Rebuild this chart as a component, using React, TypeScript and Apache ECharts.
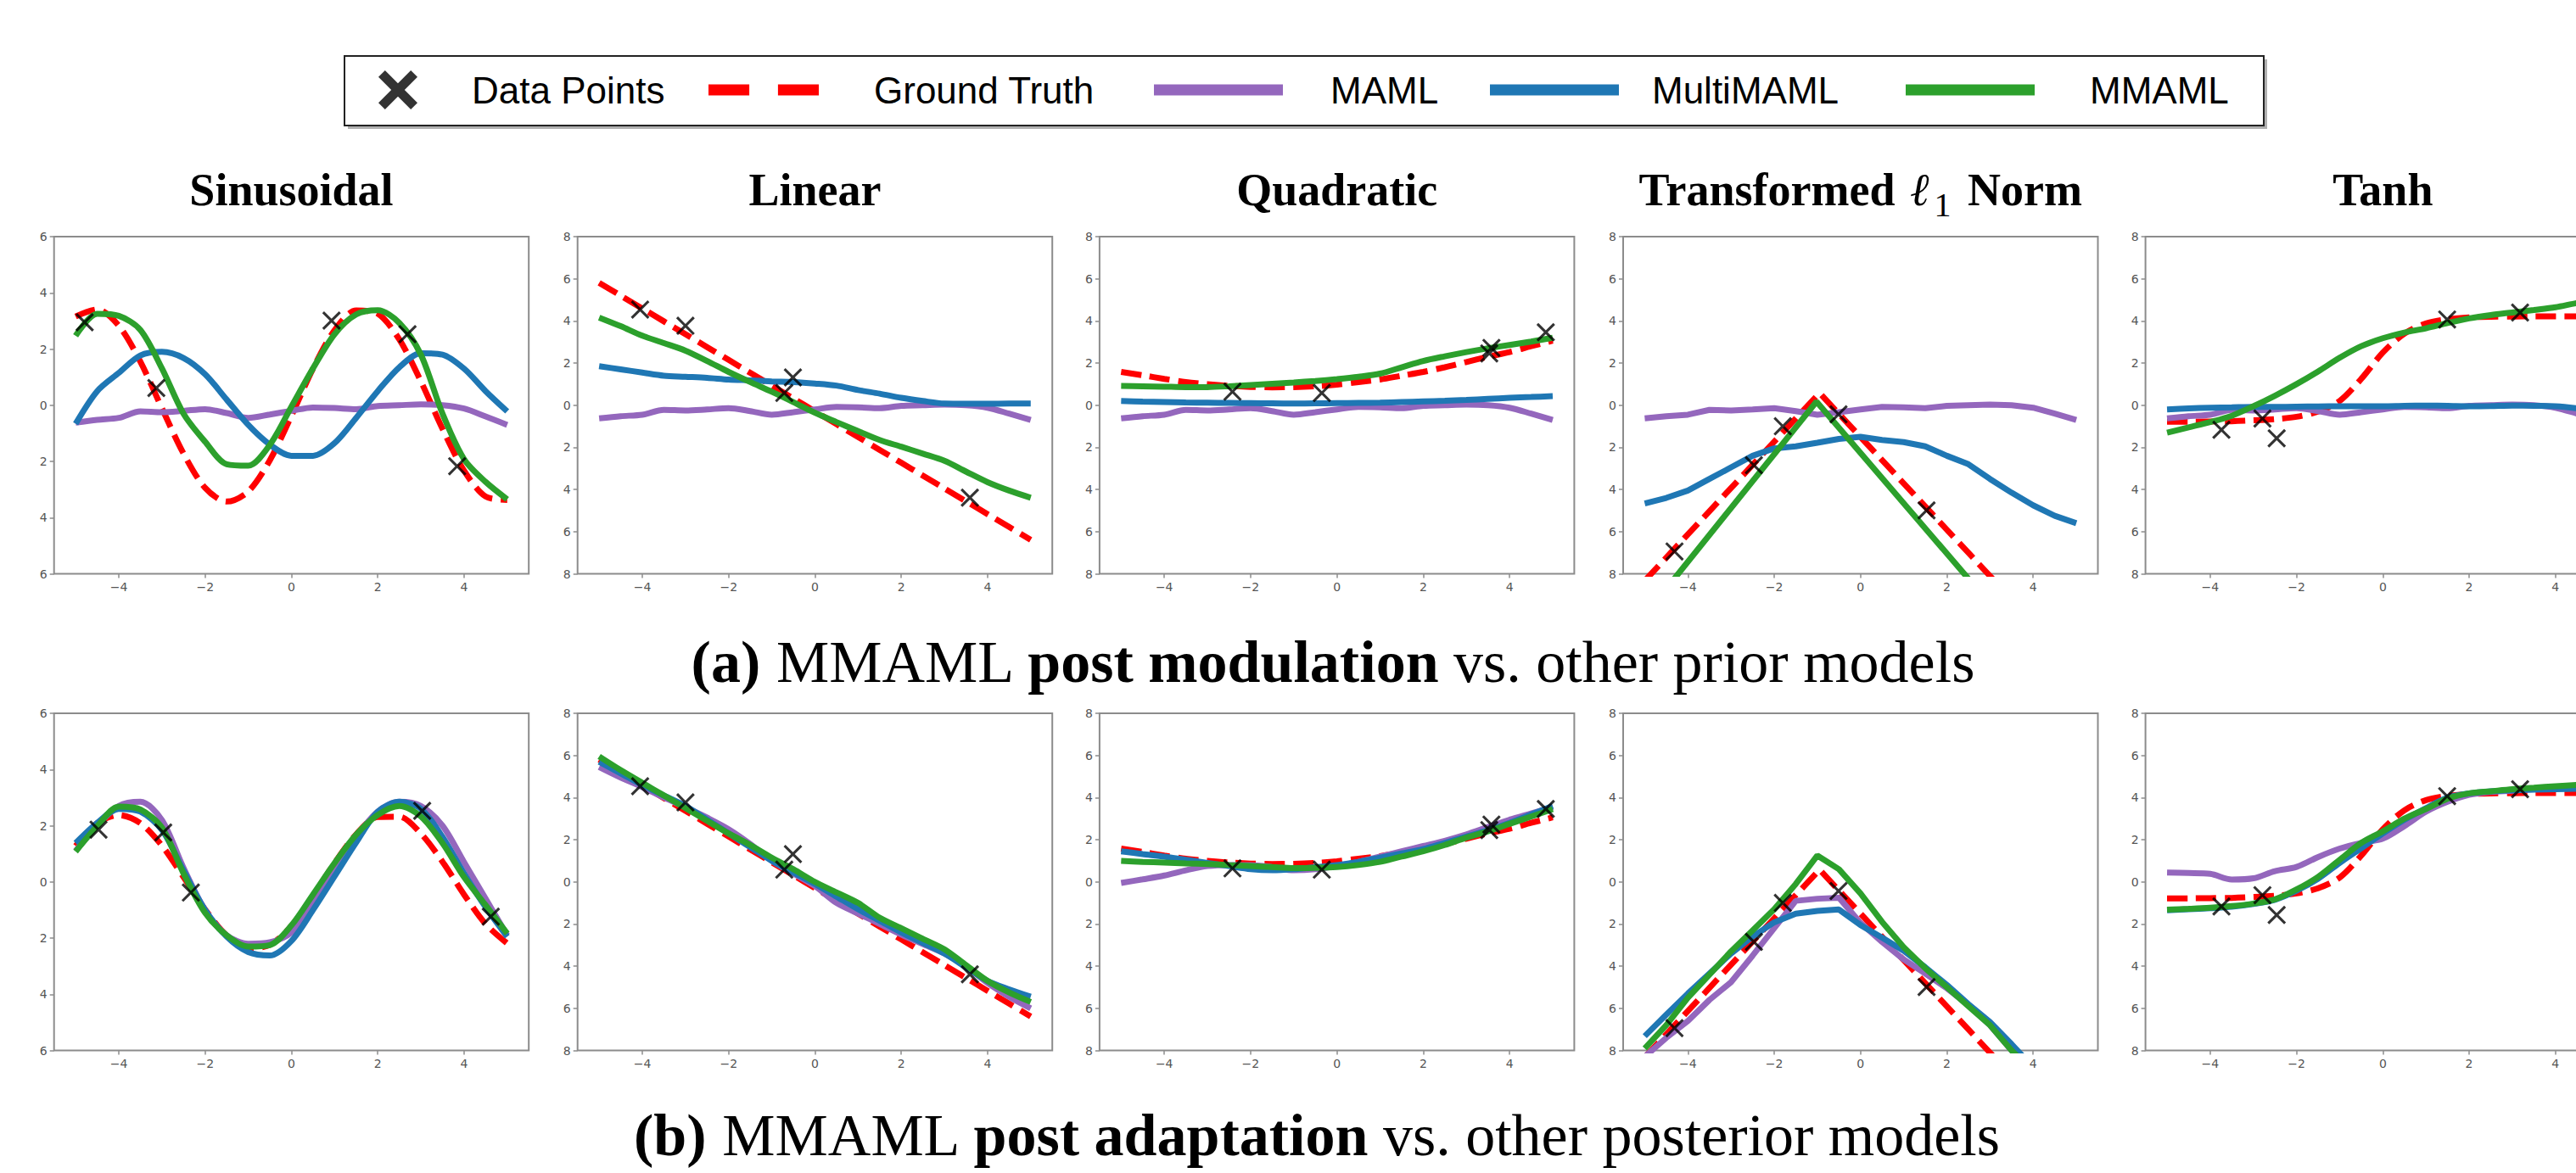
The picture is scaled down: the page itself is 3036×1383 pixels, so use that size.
import React, { useEffect, useRef } from "react";
import * as echarts from "echarts";

// ---------------- data ----------------
const X_GRID = [-5, -4.5, -4, -3.5, -3, -2.5, -2, -1.5, -1, -0.5, 0, 0.5, 1, 1.5, 2, 2.5, 3, 3.5, 4, 4.5, 5];
const X_TICKS = [-4, -2, 0, 2, 4];

// MAML prior (same function in every top-row panel)
const MAML_PRIOR = [-0.62, -0.52, -0.45, -0.22, -0.25, -0.2, -0.14, -0.28, -0.45, -0.33, -0.2, -0.08, -0.1, -0.14, -0.03, 0.0, 0.03, 0.0, -0.12, -0.4, -0.7];

// Sinusoidal
const SIN_A_GT = [3.16, 3.41, 2.83, 1.55, -0.11, -1.72, -2.94, -3.43, -3.07, -1.96, -0.38, 1.3, 2.67, 3.37, 3.26, 2.34, 0.85, -0.84, -2.33, -3.25, -3.37];
const SIN_A_MULTI = [-0.66, 0.5, 1.15, 1.77, 1.9, 1.68, 1.1, 0.2, -0.7, -1.4, -1.8, -1.8, -1.35, -0.45, 0.5, 1.35, 1.85, 1.8, 1.3, 0.5, -0.22];
const SIN_A_MMAML = [2.47, 3.25, 3.18, 2.68, 1.31, -0.3, -1.3, -2.1, -2.15, -1.41, -0.05, 1.31, 2.53, 3.23, 3.38, 2.93, 1.8, -0.3, -1.92, -2.73, -3.35];
const SIN_A_PTS_X = [-4.79, -3.13, 0.93, 2.69, 3.84];
const SIN_A_PTS_Y = [2.95, 0.61, 3.01, 2.53, -2.17];

const SIN_B_GT = [1.28, 2.09, 2.38, 2.09, 1.29, 0.17, -0.98, -1.91, -2.36, -2.24, -1.57, -0.5, 0.67, 1.69, 2.31, 2.32, 1.72, 0.72, -0.45, -1.5, -2.19];
const SIN_B_MAML = [1.1, 2.0, 2.7, 2.85, 2.2, 0.5, -1.0, -1.9, -2.2, -2.15, -1.8, -0.8, 0.4, 1.6, 2.5, 2.85, 2.7, 2.0, 0.7, -0.6, -1.9];
const SIN_B_MULTI = [1.38, 2.1, 2.6, 2.5, 1.85, 0.4, -1.0, -1.95, -2.5, -2.62, -2.1, -1.0, 0.2, 1.4, 2.5, 2.85, 2.6, 1.6, 0.3, -0.9, -1.95];
const SIN_B_MMAML = [1.08, 1.98, 2.68, 2.58, 1.93, 0.3, -1.1, -1.9, -2.3, -2.25, -1.55, -0.45, 0.67, 1.68, 2.38, 2.7, 2.33, 1.38, 0.17, -0.83, -1.84];
const SIN_B_PTS_X = [-4.47, -2.97, -2.33, 3.03, 4.62];
const SIN_B_PTS_Y = [1.86, 1.76, -0.38, 2.53, -1.24];

// Linear
const LIN_GT = [5.81, 5.2, 4.59, 3.98, 3.37, 2.76, 2.15, 1.54, 0.93, 0.32, -0.29, -0.9, -1.51, -2.12, -2.73, -3.34, -3.95, -4.56, -5.17, -5.78, -6.39];
const LIN_A_MULTI = [1.85, 1.7, 1.55, 1.4, 1.35, 1.3, 1.22, 1.18, 1.13, 1.1, 1.03, 0.93, 0.72, 0.55, 0.35, 0.2, 0.08, 0.07, 0.07, 0.08, 0.08];
const LIN_A_MMAML = [4.16, 3.75, 3.3, 2.95, 2.59, 2.1, 1.58, 1.1, 0.64, 0.15, -0.36, -0.8, -1.23, -1.65, -1.97, -2.3, -2.64, -3.15, -3.65, -4.05, -4.39];
const LIN_B_MAML = [5.45, 4.95, 4.5, 4.0, 3.55, 3.05, 2.5, 1.8, 1.0, 0.4, -0.2, -1.0, -1.5, -2.0, -2.5, -2.95, -3.4, -4.0, -4.8, -5.45, -6.0];
const LIN_B_MULTI = [5.7, 5.15, 4.6, 4.1, 3.6, 2.95, 2.3, 1.65, 1.0, 0.45, -0.1, -0.7, -1.3, -1.85, -2.4, -2.9, -3.4, -4.05, -4.7, -5.1, -5.45];
const LIN_B_MMAML = [5.95, 5.3, 4.7, 4.1, 3.5, 2.9, 2.3, 1.75, 1.15, 0.6, 0.0, -0.5, -1.0, -1.7, -2.2, -2.7, -3.2, -3.95, -4.7, -5.25, -5.7];
const LIN_PTS_X = [-4.05, -3.0, -0.51, -0.71, 3.59];
const LIN_PTS_Y = [4.54, 3.77, 1.32, 0.58, -4.39];

// Quadratic
const QUAD_GT = [1.58, 1.42, 1.25, 1.1, 1.0, 0.92, 0.87, 0.85, 0.86, 0.9, 0.98, 1.1, 1.22, 1.4, 1.58, 1.8, 2.05, 2.3, 2.52, 2.8, 3.06];
const QUAD_A_MULTI = [0.2, 0.17, 0.15, 0.13, 0.12, 0.11, 0.1, 0.09, 0.08, 0.09, 0.1, 0.11, 0.12, 0.15, 0.18, 0.21, 0.25, 0.3, 0.35, 0.39, 0.43];
const QUAD_A_MMAML = [0.92, 0.9, 0.88, 0.86, 0.86, 0.9, 0.96, 1.02, 1.08, 1.15, 1.24, 1.35, 1.5, 1.8, 2.1, 2.32, 2.52, 2.7, 2.86, 3.02, 3.2];
const QUAD_B_MAML = [-0.05, 0.12, 0.3, 0.55, 0.75, 0.8, 0.8, 0.7, 0.55, 0.6, 0.75, 0.95, 1.2, 1.45, 1.7, 1.95, 2.25, 2.6, 2.95, 3.25, 3.55];
const QUAD_B_MULTI = [1.45, 1.32, 1.2, 1.05, 0.9, 0.75, 0.6, 0.55, 0.6, 0.7, 0.8, 0.95, 1.15, 1.35, 1.55, 1.85, 2.15, 2.45, 2.8, 3.2, 3.6];
const QUAD_B_MMAML = [1.0, 0.95, 0.92, 0.88, 0.85, 0.8, 0.75, 0.7, 0.65, 0.66, 0.7, 0.8, 0.95, 1.2, 1.45, 1.75, 2.1, 2.4, 2.75, 3.1, 3.45];
const QUAD_PTS_X = [-2.42, -0.35, 3.58, 3.53, 4.84];
const QUAD_PTS_Y = [0.64, 0.58, 2.72, 2.46, 3.46];

// Transformed l1 norm
const L1_GT_X = [-5, -0.95, 5];
const L1_GT_Y = [-8.33, 0.58, -12.5];
const L1_A_MMAML_X = [-5, -1.02, 5];
const L1_A_MMAML_Y = [-9.98, 0.17, -14.2];
const L1_A_MULTI = [-4.66, -4.4, -4.05, -3.5, -2.95, -2.4, -2.05, -1.95, -1.78, -1.6, -1.5, -1.65, -1.75, -1.95, -2.4, -2.8, -3.5, -4.15, -4.75, -5.25, -5.6];
const L1_B_MAML = [-8.3, -7.4, -6.6, -5.6, -4.76, -3.5, -2.2, -0.9, -0.8, -0.75, -1.95, -2.85, -3.68, -4.35, -5.05, -5.85, -6.8, -8.0, -9.0, -10.0, -11.0];
const L1_B_MULTI = [-7.32, -6.3, -5.3, -4.35, -3.4, -2.6, -1.92, -1.51, -1.38, -1.31, -2.05, -2.65, -3.27, -4.05, -4.89, -5.8, -6.65, -7.7, -8.8, -10.0, -11.0];
const L1_B_MMAML = [-7.9, -6.8, -5.5, -4.4, -3.3, -2.3, -1.3, -0.1, 1.25, 0.6, -0.55, -1.9, -3.1, -4.1, -5.0, -5.9, -6.8, -8.0, -9.0, -10.0, -11.0];
const L1_PTS_X = [-4.31, -2.47, -1.8, -0.51, 1.53];
const L1_PTS_Y = [-6.94, -2.85, -1.0, -0.43, -4.99];

// Tanh
const TANH_GT = [-0.78, -0.78, -0.77, -0.76, -0.72, -0.66, -0.55, -0.3, 0.2, 1.25, 2.5, 3.4, 3.88, 4.08, 4.17, 4.2, 4.21, 4.22, 4.22, 4.22, 4.22];
const TANH_A_MULTI = [-0.2, -0.15, -0.12, -0.1, -0.08, -0.08, -0.07, -0.06, -0.05, -0.05, -0.05, -0.03, -0.02, -0.03, -0.05, -0.04, -0.02, -0.03, -0.05, -0.15, -0.3];
const TANH_A_MMAML = [-1.3, -1.05, -0.8, -0.5, -0.05, 0.45, 1.0, 1.6, 2.25, 2.8, 3.18, 3.45, 3.65, 3.9, 4.12, 4.28, 4.4, 4.52, 4.65, 4.85, 5.0];
const TANH_B_MAML = [0.44, 0.42, 0.38, 0.11, 0.17, 0.51, 0.71, 1.18, 1.58, 1.85, 2.05, 2.65, 3.33, 3.8, 4.13, 4.27, 4.33, 4.4, 4.45, 4.48, 4.5];
const TANH_B_MULTI = [-1.35, -1.3, -1.25, -1.18, -1.05, -0.85, -0.42, 0.15, 0.9, 1.6, 2.3, 2.95, 3.5, 4.0, 4.2, 4.3, 4.35, 4.38, 4.4, 4.42, 4.45];
const TANH_B_MMAML = [-1.32, -1.28, -1.23, -1.15, -1.03, -0.83, -0.36, 0.24, 1.05, 1.85, 2.4, 3.0, 3.46, 3.95, 4.2, 4.3, 4.4, 4.47, 4.54, 4.6, 4.65];
const TANH_PTS_X = [-3.74, -2.79, -2.46, 1.49, 3.18];
const TANH_PTS_Y = [-1.17, -0.63, -1.57, 4.07, 4.4];

const TITLES = ["Sinusoidal", "Linear", "Quadratic", "Transformed", "Tanh"];
const Y_RANGES = [6, 8, 8, 8, 8];

// ---------------- layout / style ----------------
const PANEL_LEFTS = [63.7, 680.7, 1295.9, 1913, 2528.6];
const PANEL_W = 559.5;
const ROW_TOPS = [279, 841];
const PANEL_H = 397.5;
const TITLE_CY = 224;
const CHART_W = 3036;
const CHART_H = 1383;

const C_GT = "#ff0000";
const C_MAML = "#9467bd";
const C_MULTI = "#1f77b4";
const C_MMAML = "#2ca02c";
const FRAME = "#8c8c8c";
const LW = 7;

const X_MARK = "path://M10,0L50,40L90,0L100,10L60,50L100,90L90,100L50,60L10,100L0,90L40,50L0,10Z";
const X_MARK_BOLD = "path://M17,0L50,33L83,0L100,17L67,50L100,83L83,100L50,67L17,100L0,83L33,50L0,17Z";
const DASH_ICON = "path://M0,0H37V10H0Z M63,0H100V10H63Z";

const pairs = (xs: number[], ys: number[]) => xs.map((x, i) => [x, ys[i]]);

type Curve = number[][];
type Panel = { gt: Curve; maml: Curve; multi: Curve; mmaml: Curve; pts: Curve; sharp?: boolean };

const ROW_A: Panel[] = [
  { gt: pairs(X_GRID, SIN_A_GT), maml: pairs(X_GRID, MAML_PRIOR), multi: pairs(X_GRID, SIN_A_MULTI), mmaml: pairs(X_GRID, SIN_A_MMAML), pts: pairs(SIN_A_PTS_X, SIN_A_PTS_Y) },
  { gt: pairs(X_GRID, LIN_GT), maml: pairs(X_GRID, MAML_PRIOR), multi: pairs(X_GRID, LIN_A_MULTI), mmaml: pairs(X_GRID, LIN_A_MMAML), pts: pairs(LIN_PTS_X, LIN_PTS_Y) },
  { gt: pairs(X_GRID, QUAD_GT), maml: pairs(X_GRID, MAML_PRIOR), multi: pairs(X_GRID, QUAD_A_MULTI), mmaml: pairs(X_GRID, QUAD_A_MMAML), pts: pairs(QUAD_PTS_X, QUAD_PTS_Y) },
  { gt: pairs(L1_GT_X, L1_GT_Y), maml: pairs(X_GRID, MAML_PRIOR), multi: pairs(X_GRID, L1_A_MULTI), mmaml: pairs(L1_A_MMAML_X, L1_A_MMAML_Y), pts: pairs(L1_PTS_X, L1_PTS_Y), sharp: true },
  { gt: pairs(X_GRID, TANH_GT), maml: pairs(X_GRID, MAML_PRIOR), multi: pairs(X_GRID, TANH_A_MULTI), mmaml: pairs(X_GRID, TANH_A_MMAML), pts: pairs(TANH_PTS_X, TANH_PTS_Y) },
];
const ROW_B: Panel[] = [
  { gt: pairs(X_GRID, SIN_B_GT), maml: pairs(X_GRID, SIN_B_MAML), multi: pairs(X_GRID, SIN_B_MULTI), mmaml: pairs(X_GRID, SIN_B_MMAML), pts: pairs(SIN_B_PTS_X, SIN_B_PTS_Y) },
  { gt: pairs(X_GRID, LIN_GT), maml: pairs(X_GRID, LIN_B_MAML), multi: pairs(X_GRID, LIN_B_MULTI), mmaml: pairs(X_GRID, LIN_B_MMAML), pts: pairs(LIN_PTS_X, LIN_PTS_Y) },
  { gt: pairs(X_GRID, QUAD_GT), maml: pairs(X_GRID, QUAD_B_MAML), multi: pairs(X_GRID, QUAD_B_MULTI), mmaml: pairs(X_GRID, QUAD_B_MMAML), pts: pairs(QUAD_PTS_X, QUAD_PTS_Y) },
  { gt: pairs(L1_GT_X, L1_GT_Y), maml: pairs(X_GRID, L1_B_MAML), multi: pairs(X_GRID, L1_B_MULTI), mmaml: pairs(X_GRID, L1_B_MMAML), pts: pairs(L1_PTS_X, L1_PTS_Y), sharp: true },
  { gt: pairs(X_GRID, TANH_GT), maml: pairs(X_GRID, TANH_B_MAML), multi: pairs(X_GRID, TANH_B_MULTI), mmaml: pairs(X_GRID, TANH_B_MMAML), pts: pairs(TANH_PTS_X, TANH_PTS_Y) },
];

function buildOption() {
  const grid: any[] = [];
  const xAxis: any[] = [];
  const yAxis: any[] = [];
  const series: any[] = [];
  const rows = [ROW_A, ROW_B];
  let idx = 0;
  rows.forEach((row, r) => {
    row.forEach((p, c) => {
      const R = Y_RANGES[c];
      const left = PANEL_LEFTS[c];
      const top = ROW_TOPS[r];
      grid.push({
        left, top,
        right: CHART_W - left - PANEL_W,
        bottom: CHART_H - top - PANEL_H,
        containLabel: false, outerBoundsMode: "none",
        show: true, borderColor: FRAME, borderWidth: 2, backgroundColor: "transparent",
      });
      xAxis.push({
        gridIndex: idx, type: "value", min: -5.5, max: 5.5,
        axisLine: { show: false, onZero: false },
        axisTick: { show: true, customValues: X_TICKS, length: 5, lineStyle: { color: FRAME, width: 1.5 } },
        axisLabel: {
          customValues: X_TICKS, fontSize: 14, color: "#555", margin: 8, fontFamily: "DejaVu Sans",
          formatter: (v: number) => (v < 0 ? "\u2212" + Math.abs(v) : String(v)),
        },
        splitLine: { show: false },
      });
      yAxis.push({
        gridIndex: idx, type: "value", min: -R, max: R, interval: 2,
        axisLine: { show: false, onZero: false },
        axisTick: { show: true, length: 5, lineStyle: { color: FRAME, width: 1.5 } },
        axisLabel: {
          fontSize: 14, color: "#555", margin: 8, fontFamily: "DejaVu Sans",
          formatter: (v: number) => String(Math.abs(v)),
        },
        splitLine: { show: false },
      });
      const smooth = p.sharp ? false : 0.3;
      const base = { type: "line", xAxisIndex: idx, yAxisIndex: idx, symbol: "none", clip: true, silent: true };
      series.push({ ...base, name: "Ground Truth", data: p.gt, smooth, z: 2, color: C_GT, lineStyle: { color: C_GT, width: LW, type: [24, 10], cap: "butt" } });
      series.push({ ...base, name: "MAML", data: p.maml, smooth, z: 3, color: C_MAML, lineStyle: { color: C_MAML, width: LW } });
      series.push({ ...base, name: "MultiMAML", data: p.multi, smooth, z: 4, color: C_MULTI, lineStyle: { color: C_MULTI, width: LW } });
      series.push({ ...base, name: "MMAML", data: p.mmaml, smooth, z: 5, color: C_MMAML, lineStyle: { color: C_MMAML, width: LW } });
      series.push({
        type: "scatter", name: "Data Points", xAxisIndex: idx, yAxisIndex: idx, data: p.pts,
        symbol: X_MARK, symbolSize: 22, z: 10, color: "#000", itemStyle: { color: "#000" }, silent: true,
      });
      idx++;
    });
  });

  const LEG_CY = 106;
  const legText = { fontFamily: "Liberation Sans", fontSize: 44, color: "#000" };
  const mkLegend = (name: string, icon: string, color: string, left: number, w: number, h: number, pad: number) => ({
    left, top: LEG_CY - Math.max(h, 44) / 2, padding: 0, itemWidth: w, itemHeight: h, selectedMode: false,
    data: [{ name, icon, itemStyle: { color } }],
    textStyle: { ...legText, padding: [0, 0, 0, pad] },
  });
  const legend = [
    mkLegend("Data Points", X_MARK_BOLD, "#000", 446, 46, 46, 59),
    mkLegend("Ground Truth", DASH_ICON, C_GT, 835, 150, 13, 50),
    mkLegend("MAML", "rect", C_MAML, 1360, 152, 13, 51),
    mkLegend("MultiMAML", "rect", C_MULTI, 1756, 152, 13, 34),
    mkLegend("MMAML", "rect", C_MMAML, 2246, 152, 13, 60),
  ];

  const serif = "Liberation Serif";
  const titleEls: any[] = TITLES.map((t, c) => {
    const cx = PANEL_LEFTS[c] + PANEL_W / 2;
    if (t === "Transformed") {
      return {
        type: "text", x: cx, y: TITLE_CY,
        style: {
          text: "{b|Transformed }{l|\u2113}{s|1}{b| Norm}",
          align: "center", verticalAlign: "middle", fill: "#000",
          fontFamily: serif, fontSize: 54, fontWeight: "bold",
          rich: {
            b: { fontFamily: serif, fontSize: 54, fontWeight: "bold", lineHeight: 70 },
            l: { fontFamily: serif, fontSize: 54, fontStyle: "italic", fontWeight: "normal", lineHeight: 70, padding: [0, 4, 0, 4] },
            s: { fontFamily: serif, fontSize: 40, fontWeight: "normal", lineHeight: 40, verticalAlign: "top", padding: [32, 6, 0, 2] },
          },
        },
      };
    }
    return {
      type: "text", x: cx, y: TITLE_CY,
      style: { text: t, align: "center", verticalAlign: "middle", fill: "#000", fontFamily: serif, fontSize: 54, fontWeight: "bold" },
    };
  });

  const capRich = {
    b: { fontFamily: serif, fontSize: 70, fontWeight: "bold" },
    r: { fontFamily: serif, fontSize: 70, fontWeight: "normal" },
  };
  const captions = [
    {
      type: "text", x: 1571, y: 780,
      style: {
        text: "{b|(a)}{r| MMAML }{b|post modulation}{r| vs. other prior models}",
        align: "center", verticalAlign: "middle", fill: "#000", fontFamily: serif, fontSize: 70, rich: capRich,
      },
    },
    {
      type: "text", x: 1552, y: 1338,
      style: {
        text: "{b|(b)}{r| MMAML }{b|post adaptation}{r| vs. other posterior models}",
        align: "center", verticalAlign: "middle", fill: "#000", fontFamily: serif, fontSize: 70, rich: capRich,
      },
    },
  ];

  const legendBox = [
    { type: "rect", z: 0, shape: { x: 410, y: 70, width: 2262, height: 82 }, style: { fill: "#b0b0b0" } },
    { type: "rect", z: 1, shape: { x: 406, y: 66, width: 2262, height: 82 }, style: { fill: "#fff", stroke: "#222", lineWidth: 2 } },
  ];

  return {
    animation: false,
    backgroundColor: "#fff",
    grid, xAxis, yAxis, series, legend,
    graphic: [...legendBox, ...titleEls, ...captions],
  };
}

export default function App() {
  const ref = useRef<HTMLDivElement>(null);
  useEffect(() => {
    document.body.style.margin = "0";
    document.body.style.overflow = "hidden";
    const chart = echarts.init(ref.current as HTMLDivElement, null, { renderer: "svg" });
    chart.setOption(buildOption() as any);
    return () => chart.dispose();
  }, []);
  return <div ref={ref} style={{ width: CHART_W, height: CHART_H, background: "#fff" }} />;
}
